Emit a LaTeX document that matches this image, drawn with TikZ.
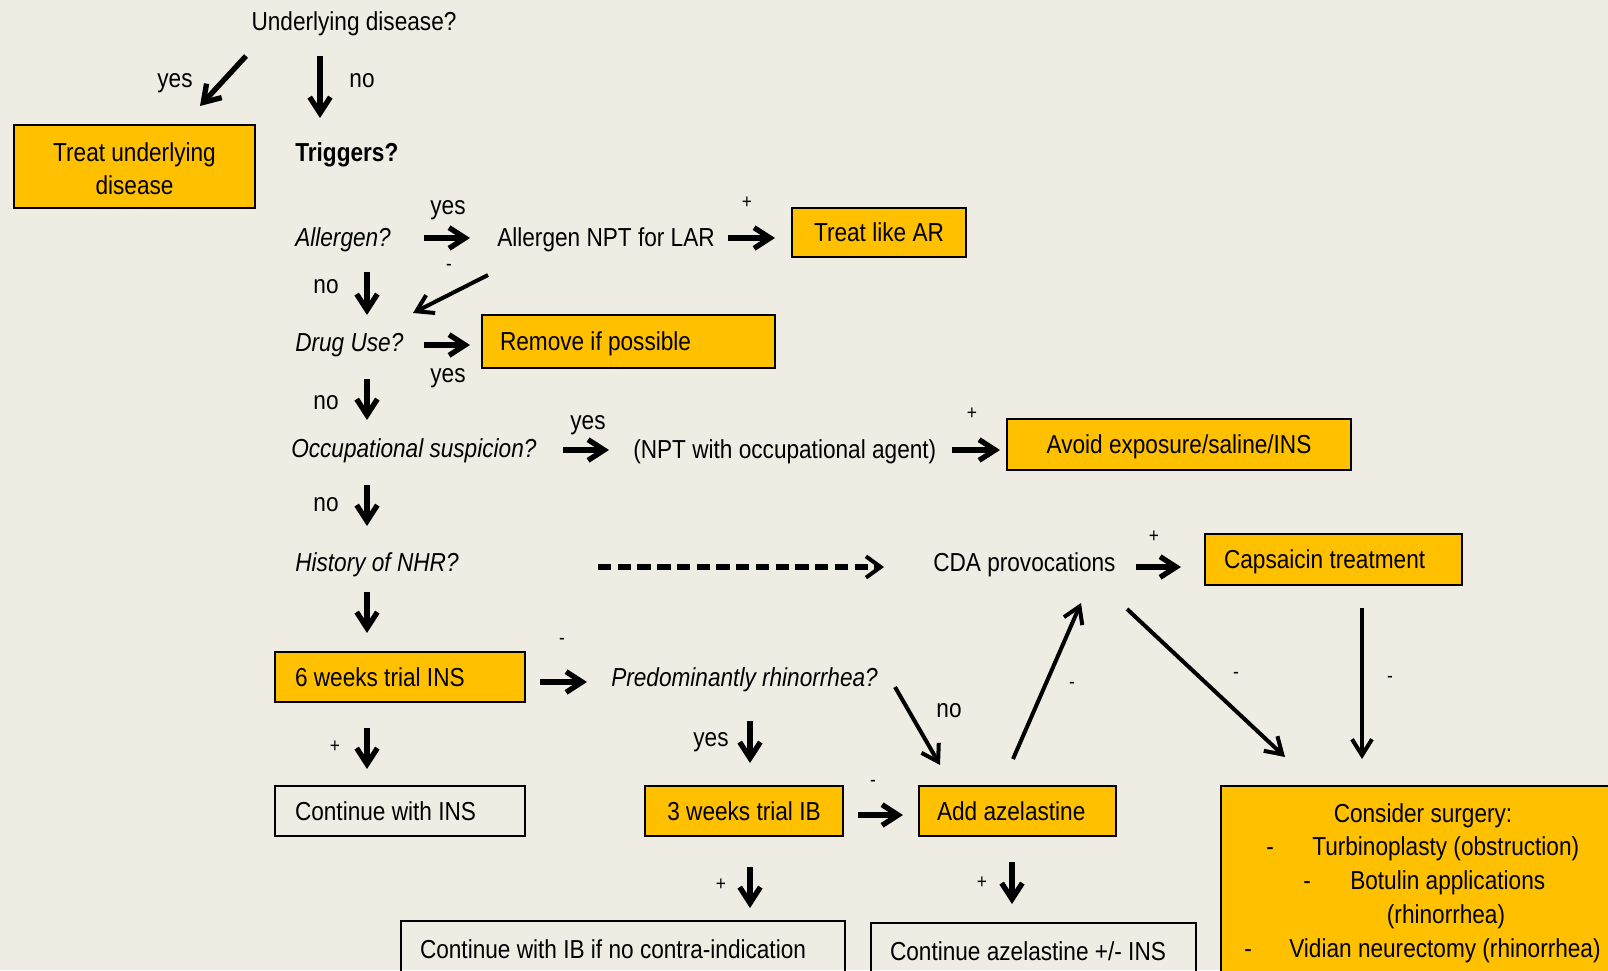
\documentclass[tikz,border=0pt]{standalone}
\usepackage{fontspec}
\setmainfont{Liberation Sans}[FakeStretch=0.87]
\usetikzlibrary{arrows.meta}
\definecolor{bgc}{RGB}{238,236,227}
\definecolor{gold}{RGB}{255,192,0}
\begin{document}
\begin{tikzpicture}[x=0.75pt,y=-0.75pt,
  font=\fontsize{19.5pt}{24.75pt}\selectfont,
  txt/.style={inner sep=0pt, text height=14pt, text depth=0pt},
  sm/.style={inner sep=0pt, font=\fontsize{15pt}{17pt}\selectfont},
  bx/.style={draw=black, line width=1.4pt, inner ysep=0pt},
  ybox/.style={bx, fill=gold},
  capt/.style={text height=14pt, text depth=0pt},
  arr/.style={line width=4pt, -{Straight Barb[length=12pt,width=15.5pt]}},
  tarr/.style={line width=3pt, -{Straight Barb[length=12pt,width=15pt]}},
  darr/.style={line width=3.9pt, dash pattern=on 10pt off 4.8pt, -{Straight Barb[length=11pt,width=16pt,line width=3pt]}}
]
\useasboundingbox (0,0) rectangle (1608,970);
\clip (0,0) rectangle (1608,970);
\fill[bgc] (0,0) rectangle (1608,970);

% ---- boxes ----
\node[ybox, minimum width=180.75pt, minimum height=62.25pt] (treat) at (134.5,166.5) {};
\node[align=center, inner sep=0pt] (treattxt) at (134.5,169) {Treat underlying\\disease};
\node[ybox, capt, minimum width=130.5pt, minimum height=36.75pt] (ar) at (879,232.5) {Treat like AR};
\node[ybox, capt, inner xsep=13.5pt, minimum height=39.75pt] (remove) at (628.5,341.5) {\makebox[192.75pt][l]{Remove if possible}};
\node[ybox, capt, minimum width=258pt, minimum height=38.25pt] (avoid) at (1179,444.5) {Avoid exposure/saline/INS};
\node[ybox, capt, inner xsep=14.25pt, minimum height=38.25pt] (caps) at (1333.5,559.5) {\makebox[164.25pt][l]{Capsaicin treatment}};
\node[ybox, capt, inner xsep=15pt, minimum height=37.5pt] (ins) at (400,677) {\makebox[157.5pt][l]{6 weeks trial INS}};
\node[bx, capt, inner xsep=15pt, minimum height=37.5pt] (contins) at (400,811) {\makebox[157.5pt][l]{Continue with INS}};
\node[ybox, capt, minimum width=148.5pt, minimum height=37.5pt] (ib) at (744,811) {3 weeks trial IB};
\node[ybox, capt, inner xsep=13.5pt, minimum height=37.5pt] (aze) at (1017.5,811) {\makebox[120.75pt][l]{Add azelastine}};
\node[bx, capt, inner xsep=14.25pt, minimum height=42pt] (contib) at (623,949) {\makebox[304.5pt][l]{Continue with IB if no contra-indication}};
\node[bx, capt, inner xsep=14.25pt, minimum height=42pt] (contaze) at (1033.5,951) {\makebox[215.25pt][l]{Continue azelastine +/- INS}};
\node[ybox, minimum width=299.25pt, minimum height=153pt] (surg) at (1420.5,888) {};

% surgery text
\node[txt] (s0) at (1423,813) {Consider surgery:};
\node[txt] (s1d) at (1270,846) {-};
\node[txt, anchor=west] (s1) at (1312,846) {Turbinoplasty (obstruction)};
\node[txt] (s2d) at (1307,880) {-};
\node[txt, anchor=west] (s2) at (1350,880) {Botulin applications};
\node[txt] (s3) at (1446,914) {(rhinorrhea)};
\node[txt] (s4d) at (1248,948) {-};
\node[txt, anchor=west] (s4) at (1289,948) {Vidian neurectomy (rhinorrhea)};

% ---- text nodes ----
\node[txt] (under) at (354,21) {Underlying disease?};
\node[txt] (yes1) at (175,78) {yes};
\node[txt] (no1) at (362,78) {no};
\node[txt, anchor=west] (trig) at (295,152) {\bfseries Triggers?};
\node[txt, anchor=west] (allerg) at (295,237) {\itshape Allergen?};
\node[txt] (yes2) at (448,205) {yes};
\node[txt, anchor=west] (npt) at (497,237) {Allergen NPT for LAR};
\node[sm] (p1) at (747,203) {+};
\node[txt] (no2) at (326,284) {no};
\node[sm] (m1) at (449,267) {-};
\node[txt, anchor=west] (drug) at (295,342) {\itshape Drug Use?};
\node[txt] (yes3) at (448,373) {yes};
\node[txt] (no3) at (326,400) {no};
\node[txt, anchor=west] (occ) at (291,448) {\itshape Occupational suspicion?};
\node[txt] (yes4) at (588,420) {yes};
\node[txt, anchor=west] (nptocc) at (633,449) {(NPT with occupational agent)};
\node[sm] (p2) at (972,414) {+};
\node[txt] (no4) at (326,502) {no};
\node[txt, anchor=west] (hist) at (295,562) {\itshape History of NHR?};
\node[txt, anchor=west] (cda) at (933,562) {CDA provocations};
\node[sm] (p3) at (1154,537) {+};
\node[sm] (m2) at (562,641) {-};
\node[txt, anchor=west] (pred) at (611,677) {\itshape Predominantly rhinorrhea?};
\node[txt] (no5) at (949,708) {no};
\node[sm] (m3) at (1072,685) {-};
\node[sm] (m4) at (1236,675) {-};
\node[sm] (m5) at (1390,679) {-};
\node[sm] (p4) at (335,747) {+};
\node[txt] (yes5) at (711,737) {yes};
\node[sm] (m6) at (873,783) {-};
\node[sm] (p5) at (721,885) {+};
\node[sm] (p6) at (982,883) {+};

% ---- arrow end points ----
\coordinate (a1s) at (246,56);   \coordinate (a1e) at (200,106);
\coordinate (a2s) at (320,56);   \coordinate (a2e) at (320,118);
\coordinate (a3s) at (424,238);  \coordinate (a3e) at (470,238);
\coordinate (a4s) at (728,238);  \coordinate (a4e) at (775,238);
\coordinate (a5s) at (367,272);  \coordinate (a5e) at (367,315);
\coordinate (a6s) at (488,275);  \coordinate (a6e) at (413,313);
\coordinate (a7s) at (424,345);  \coordinate (a7e) at (470,345);
\coordinate (a8s) at (367,379);  \coordinate (a8e) at (367,420);
\coordinate (a9s) at (563,450);  \coordinate (a9e) at (609,450);
\coordinate (a10s) at (952,450); \coordinate (a10e) at (1000,450);
\coordinate (a11s) at (367,485); \coordinate (a11e) at (367,526);
\coordinate (a12s) at (598,567); \coordinate (a12e) at (884,567);
\coordinate (a13s) at (1136,567);\coordinate (a13e) at (1181,567);
\coordinate (a14s) at (367,592); \coordinate (a14e) at (367,633);
\coordinate (a15s) at (540,682); \coordinate (a15e) at (587,682);
\coordinate (a16s) at (895,687); \coordinate (a16e) at (940,765);
\coordinate (a17s) at (1013,759);\coordinate (a17e) at (1081,603);
\coordinate (a18s) at (1127,609);\coordinate (a18e) at (1285,757);
\coordinate (a19s) at (1362,608);\coordinate (a19e) at (1362,759);
\coordinate (a20s) at (367,728); \coordinate (a20e) at (367,769);
\coordinate (a21s) at (750,721); \coordinate (a21e) at (750,763);
\coordinate (a22s) at (858,815); \coordinate (a22e) at (903,815);
\coordinate (a23s) at (750,867); \coordinate (a23e) at (750,908);
\coordinate (a24s) at (1012,862);\coordinate (a24e) at (1012,904);

\draw[arr] (a1s) -- (a1e);
\draw[arr] (a2s) -- (a2e);
\draw[arr] (a3s) -- (a3e);
\draw[arr] (a4s) -- (a4e);
\draw[arr] (a5s) -- (a5e);
\draw[tarr] (a6s) -- (a6e);
\draw[arr] (a7s) -- (a7e);
\draw[arr] (a8s) -- (a8e);
\draw[arr] (a9s) -- (a9e);
\draw[arr] (a10s) -- (a10e);
\draw[arr] (a11s) -- (a11e);
\draw[darr] (a12s) -- (a12e);
\draw[arr] (a13s) -- (a13e);
\draw[arr] (a14s) -- (a14e);
\draw[arr] (a15s) -- (a15e);
\draw[tarr] (a16s) -- (a16e);
\draw[tarr] (a17s) -- (a17e);
\draw[tarr] (a18s) -- (a18e);
\draw[tarr] (a19s) -- (a19e);
\draw[arr] (a20s) -- (a20e);
\draw[arr] (a21s) -- (a21e);
\draw[arr] (a22s) -- (a22e);
\draw[arr] (a23s) -- (a23e);
\draw[arr] (a24s) -- (a24e);
\end{tikzpicture}
\end{document}
